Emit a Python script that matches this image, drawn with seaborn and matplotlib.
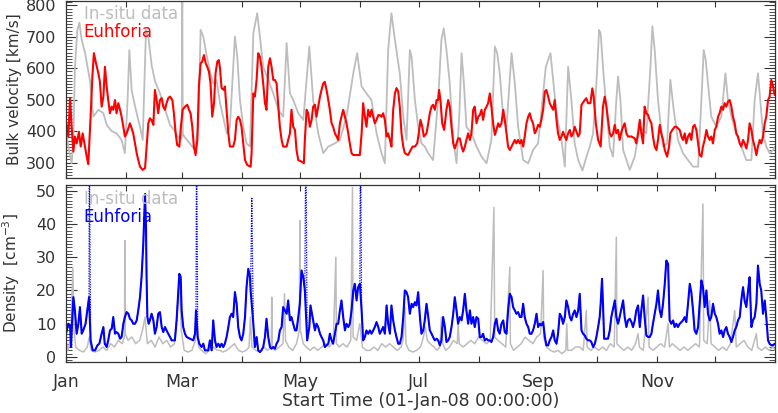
import numpy as np
import pandas as pd
import seaborn as sns
import matplotlib.pyplot as plt
import matplotlib.dates as mdates
from matplotlib.ticker import MultipleLocator, FuncFormatter

start = pd.Timestamp('2008-01-01')

# (day of 2008, km/s) - Euhforia bulk velocity
vel_eu = [(0,430),(1.2,383),(2.1,505),(2.9,414),(3.8,335),(4.6,383),(5.5,361),(6.7,398),(7.6,351),(8.6,393),(9.5,361),(10.7,319),(11.5,295),(12.7,446),(13.6,573),(14.4,648),(15.5,616),(16.7,584),(17.5,558),(18.4,478),(19.3,510),(20.1,605),(21.0,542),(21.8,499),(22.7,457),(23.6,478),(24.4,468),(25.3,499),(26.1,457),(27.0,489),(27.9,468),(28.7,446),(29.6,414),(30.4,383),(31.3,393),(32.2,409),(33.0,425),(33.9,409),(34.7,393),(35.6,361),(36.5,330),(37.3,308),(38.2,287),(39.6,277),(40.8,282),(41.6,351),(42.5,425),(43.3,441),(44.2,435),(45.1,420),(45.9,531),(46.8,499),(47.6,457),(48.5,499),(49.4,505),(50.2,478),(51.1,468),(51.9,489),(52.8,505),(53.7,510),(54.9,499),(55.7,457),(56.6,393),(57.4,356),(58.5,351),(59.3,414),(60.2,468),(61.4,478),(62.6,484),(63.5,468),(64.3,457),(65.2,414),(66.0,351),(66.9,324),(67.8,372),(68.6,542),(69.5,616),(70.3,621),(71.2,642),(72.1,616),(72.9,605),(73.8,589),(74.6,552),(75.5,446),(76.4,489),(77.2,584),(78.1,621),(78.9,626),
          (79.5,600),(80.3,537),(81.5,531),(82.0,542),(82.9,468),(83.8,393),(84.6,351),(86.3,351),(87.2,372),(88.1,436),(88.9,446),(89.8,436),(90.6,414),(91.5,361),(92.4,308),(93.6,292),(95.3,287),(95.8,330),(96.7,520),(97.5,510),(98.4,563),(99.2,648),(100.1,637),(100.9,605),(101.8,552),(102.7,489),(103.5,468),(104.4,605),(105.3,632),(106.1,605),(107.0,563),(107.8,563),(108.7,552),(109.6,478),(110.4,414),(111.3,372),(112.1,351),(113.9,351),(114.7,372),(115.6,393),(116.4,468),(117.3,414),(118.2,404),(119.0,340),(119.9,308),(121.6,303),(122.8,298),(123.3,372),(124.2,468),(125.0,457),(125.9,414),(126.8,436),(127.6,478),(128.5,484),(129.3,446),(130.2,478),(131.1,510),(131.9,531),(132.8,552),(133.6,557),(134.5,531),(135.4,499),(136.2,468),(137.1,425),(137.9,414),(138.8,393),(139.7,383),(140.5,372),(141.4,425),(142.2,446),(143.1,468),(144.0,446),(144.8,425),(145.7,393),(146.5,361),(147.4,330),(148.3,324),(150.0,324),(151.7,324),(152.6,393),(153.4,489),(154.3,446),(155.1,414),(156.0,468),(156.9,446),(157.7,468),(158.6,446),(159.4,425),(160.3,436),(161.2,451),(162.0,451),(162.9,446),(163.7,457),(164.6,436),(165.5,383),(166.3,393),(167.2,372),(168.0,351),(168.9,468),(169.8,520),(170.6,537),(171.5,526),
          (172.3,478),(173.2,393),(174.1,351),(174.9,330),(176.6,324),(177.5,335),(178.9,351),(180.1,351),(181.3,361),(182.1,393),(183.0,436),(183.9,414),(184.7,383),(186.1,393),(187.0,425),(187.8,457),(188.7,478),(189.5,484),(190.4,468),(191.3,499),(192.1,499),(192.6,531),(193.3,499),(194.2,425),(195.2,404),(196.4,468),(197.3,499),(198.1,478),(199.0,414),(199.9,361),(200.7,345),(201.6,361),(202.4,377),(203.3,377),(204.2,351),(205.0,335),(205.9,351),(206.7,372),(207.6,393),(208.5,372),(209.3,393),(210.2,468),(211.0,478),(211.9,425),(212.8,446),(213.6,451),(214.5,468),(215.3,436),(216.2,468),(217.1,478),(217.9,489),(218.8,520),(219.6,478),(220.5,425),(221.4,388),(222.2,404),(223.1,425),(223.9,414),(224.8,425),(225.7,468),(226.5,436),(227.4,393),(228.2,351),(229.1,340),(230.0,351),(230.8,361),(231.7,372),(232.5,361),(233.4,372),(234.3,361),(235.1,372),(236.0,351),(236.8,383),(237.7,425),(238.6,446),(239.4,457),(240.3,436),(241.1,425),(242.0,393),(242.9,404),(243.7,420),(244.6,414),(245.4,436),(246.3,468),(247.2,526),(248.0,531),(248.9,510),(249.7,489),(250.6,478),(251.5,468),(252.3,499),(253.2,436),(254.0,393),(254.9,372),(255.8,383),(256.6,398),(257.5,383),(258.3,372),(259.2,393),(260.1,404),(260.9,383),(261.8,393),(262.6,414),(263.5,398),(264.4,383),
          (265.2,393),(266.1,484),(267.8,499),(268.6,505),(269.5,489),(270.7,489),(271.7,536),(272.4,510),(273.5,425),(274.7,372),(276.0,351),(277.2,478),(278.1,510),(279.0,478),(279.8,436),(280.7,393),(281.5,383),(282.4,393),(283.3,420),(284.1,393),(285.0,404),(285.8,372),(286.7,398),(287.6,414),(288.4,425),(289.3,393),(290.1,383),(291.9,383),(293.6,377),(294.4,361),(295.3,393),(296.2,436),(297.0,393),(297.9,361),(298.7,478),(299.6,457),(300.5,451),(301.3,436),(302.2,425),(303.0,383),(303.9,351),(304.8,340),(305.6,372),(306.5,420),(307.3,393),(308.2,372),(309.1,340),(310.3,319),(311.3,351),(312.0,393),(313.0,404),(314.2,414),(315.1,414),(315.9,409),(316.8,404),(317.7,383),(318.5,372),(319.4,393),(320.2,361),(321.1,383),(322.0,393),(322.8,372),(323.7,414),(324.5,420),(325.4,404),(326.3,361),(327.1,324),(328.0,319),(328.8,351),(329.7,372),(330.6,404),(331.4,383),(332.3,372),(333.1,383),(334.0,361),(334.9,404),(335.7,414),(336.6,446),(337.4,457),(338.3,478),(339.2,468),(340.0,489),(340.9,478),(341.7,494),(342.6,499),(343.5,478),(344.3,446),(345.2,425),(346.0,393),(346.9,383),(347.8,361),(348.6,351),(349.5,372),(350.3,361),(351.2,345),(352.1,372),(352.9,425),(353.8,404),(354.6,372),(355.5,351),(356.4,324),(357.2,351),(358.1,372),(358.9,361),(359.8,383),(360.7,425),(361.5,446),(362.4,499),(363.2,510),(364.1,563),(365.0,542),(365.8,515)]

# (day of 2008, km/s) - in-situ bulk velocity
vel_in = [(0,414),(1.2,350),(2.9,298),(3.8,380),(4.6,600),(5.8,720),(6.9,745),(8.1,690),(9.8,650),(12.4,560),(14.1,446),(16.7,468),(19.3,457),(21.0,420),(23.6,400),(26.1,393),(28.7,372),(30.4,330),(31.8,500),(32.7,658),(33.9,530),(35.6,480),(38.2,414),(39.6,372),(41.3,722),(42.5,700),(44.2,610),(45.9,560),(48.5,520),(51.1,470),(53.7,420),(56.2,400),(58.8,372),(59.8,380),(60.0,815),(60.3,390),(61.4,380),(64.0,360),(66.6,340),(68.3,420),(69.5,722),(70.9,700),(72.6,640),(74.6,584),(76.0,552),(77.7,563),
          (79.5,490),(83.0,393),(84.6,414),(87.2,701),(88.4,637),(89.8,499),(91.5,414),(93.2,361),(95.0,351),(96.7,711),(98.7,775),(100.1,701),(101.8,605),(104.4,563),(107.0,520),(109.6,468),(112.1,446),(113.9,680),(115.6,520),(117.3,499),(119.9,457),(122.5,436),(125.6,669),(127.6,499),(130.2,393),(132.8,330),(135.4,351),(138.8,361),(141.4,372),(144.8,446),(148.3,584),(150.3,648),(152.6,542),(155.1,520),(157.7,499),(160.3,393),(162.9,330),(164.6,298),(166.3,658),(168.0,775),(169.8,690),(172.3,584),(174.1,446),(175.8,372),(177.5,658),(178.4,637),(180.1,499),(181.8,414),(183.5,361),(185.2,351),(187.0,330),(189.5,308),(192.1,499),(193.8,690),(195.0,727),(196.4,658),(198.1,552),(199.9,372),(201.6,298),(203.0,446),(204.2,648),(205.4,552),(206.7,414),(209.3,393),(211.9,351),(214.5,319),(217.1,298),(219.6,372),(221.4,669),(222.6,648),(223.9,584),(225.7,446),(227.4,414),(230.0,648),(231.7,552),(233.4,414),(236.0,308),(238.6,298),(241.1,340),(243.7,361),(246.3,520),(247.7,605),(250.1,648),(251.5,563),(253.2,457),(255.8,372),(257.5,287),(259.2,605),(260.9,499),(262.6,361),(264.4,308),(266.6,275),(268.7,319),(270.4,351),(272.1,393),(273.8,552),(275.2,722),(276.0,711),(277.2,605),(279.0,468),(280.7,351),(282.4,319),(284.1,499),(285.0,574),(286.2,499),(287.6,340),(289.3,308),(291.0,277),(293.6,319),(296.2,414),(299.6,393),(301.7,605),(302.7,733),(303.9,658),(305.6,499),(308.2,351),(310.3,361),(312.0,563),(313.7,468),(315.9,372),(318.5,330),(321.1,308),(323.7,287),(326.3,287),(328.0,499),(329.2,658),(330.2,627),(331.4,552),(333.1,446),(335.7,414),(338.3,446),(340.4,584),(341.7,499),(343.5,446),(346.0,393),(348.6,351),(351.2,308),(353.8,308),(355.5,499),(357.2,584),(358.1,520),(359.8,393),(361.5,351),(363.2,330),(365.0,340),(365.9,350)]

# (day of 2008, cm^-3) - Euhforia density
dens_eu = [(0,7),(1.2,10),(2.1,9.5),(2.6,3),(3.1,10),(3.8,18),(4.6,14),(5.5,7),(6.4,10),(7.2,15),(8.1,7),(8.9,8),(10.1,10),(11.0,14),(11.9,18),(12.7,5),(13.8,2),(15.0,2),(16.2,3.5),(17.2,4),(18.4,7),(19.3,9),(20.0,4),(21.0,3),(21.8,5),(22.7,8),(23.6,8.5),(24.4,12),(25.3,7),(26.1,7.5),(27.0,7),(27.9,5.5),(28.7,6),(29.6,10),(30.4,12),(31.3,13.5),(32.2,13),(33.0,11.5),(33.9,11),(34.7,10),(35.6,10),(36.5,11),(37.3,14),(38.2,18),(39.0,24),(39.9,34),(40.8,49),(41.3,39),(41.6,24),(42.0,12),(42.7,10),(43.3,11),(44.2,13),(45.1,11),(45.9,7),(46.8,9),(47.6,13),(48.5,13.5),(49.4,9),(50.2,7.5),(51.1,9),(51.9,8),(52.8,7),(53.7,6),(54.5,5),(55.4,5),(56.2,5),(57.1,11),(57.6,16),(58.5,25),(59.2,24),(59.7,14),(60.5,9),(61.4,7),(62.3,6),(64.0,5.5),(65.7,5),(66.6,7),(67.1,14),(68.0,6),(68.8,4),(70.0,3),(70.9,4),(71.7,2),(72.6,2),(73.4,2),(74.3,5),(75.2,2),(76.0,11),(76.9,5),(77.7,3),(78.6,4),
           (79.5,3),(80.3,4),(81.2,3),(82.0,4),(82.9,6),(83.8,9),(84.6,12),(85.5,13),(86.3,12),(87.2,19.5),(88.1,16),(88.9,9),(89.8,6),(90.6,5),(91.5,7),(92.4,12),(93.2,21),(94.1,26.5),(95.0,24),(95.3,20),(96.7,10),(97.5,3),(98.4,6),(99.2,2),(100.1,1.5),(100.9,2),(101.8,3),(102.7,6),(103.5,11.5),(104.4,6),(105.3,3),(106.1,2.5),(107.0,3),(107.8,2.5),(108.7,4),(109.6,5),(110.4,8),(111.3,9),(112.1,15),(113.0,14),(113.9,13),(114.7,17),(115.6,11),(116.4,12),(117.3,10),(118.2,8),(119.0,8),(119.9,12),(120.7,16),(121.6,26),(122.5,24),(123.3,20),(124.5,5),(125.6,9),(126.2,15.5),(127.3,12),(128.5,8),(129.3,10),(130.2,9),(131.1,7),(131.9,6),(132.8,5),(133.6,3),(134.5,3.5),(135.4,4),(136.2,7),(137.1,5),(137.9,4),(138.8,7),(139.7,10),(140.5,10),(141.4,14),(142.2,17),(143.1,12),(144.0,8),(144.8,10),(145.7,9),(146.5,10),(147.4,14),(148.3,20),(149.1,22),(150.0,17),(150.8,21),(151.7,22),(152.6,14),(153.4,5),(154.3,6),(155.1,8),(156.0,7),(156.9,8),(157.7,7),(158.6,8),(159.4,9),(160.3,10.5),(161.2,9),(162.0,7),(162.9,8),(163.7,9),(164.6,7),(165.5,15.5),(166.3,10),(167.2,7),(168.0,15.5),(168.9,11),(169.8,8),(170.6,6),(171.5,4),
           (172.3,4),(173.2,6),(174.1,12),(174.9,20),(175.8,19.5),(176.6,18),(177.5,13),(178.4,16),(179.2,15),(180.1,16.5),(180.9,15.5),(181.8,19.5),(182.7,12),(183.5,7),(184.4,8),(185.2,11),(186.1,16),(187.0,12),(187.8,8),(188.7,7),(189.5,6),(190.4,5),(191.3,5.5),(192.1,5),(193.0,3.5),(193.8,5),(194.7,12),(195.6,9),(196.4,4.5),(197.3,5),(198.1,6),(199.0,9),(199.9,13),(200.7,18),(201.6,14),(202.4,10),(203.3,12),(204.2,11),(205.0,14),(205.9,19),(206.7,14),(207.6,10),(208.5,14),(209.3,10),(210.2,12),(211.0,9),(211.9,12),(212.8,11.5),(213.6,6),(214.5,6),(215.3,7),(216.2,5),(217.1,5.5),(217.9,5),(218.8,5),(219.6,4.5),(220.5,6),(221.4,10),(222.2,11.5),(223.1,8),(223.9,7),(224.8,10),(225.7,11),(226.5,7.5),(227.4,7),(228.2,14),(229.1,19),(230.0,18),(230.8,15),(231.7,14),(232.5,13),(233.4,13.5),(234.3,12),(235.1,12),(236.0,16),(236.8,12),(237.7,10),(238.6,9),(239.4,7),(240.3,7),(241.1,8),(242.0,10),(242.9,13),(243.7,9),(244.6,10),(245.4,9.5),(246.3,10.5),(247.2,6),(248.0,3.5),(248.9,3.5),(249.7,5),(250.6,6),(251.5,8),(252.3,5),(253.2,4),(254.0,7),(254.9,13),(255.8,12),(256.6,10),(257.5,12),(258.3,17),(259.2,15),(260.1,12),(260.9,11),(261.8,13),(262.6,14),(263.5,12),(264.4,14),
           (265.2,19),(266.1,8),(266.9,7),(267.8,6.5),(268.6,5.5),(269.5,5),(270.4,5),(271.2,4.5),(272.1,3),(273.0,4),(273.8,6),(274.7,9),(275.5,12),(276.0,16),(276.7,23.5),(277.2,16),(277.8,5.5),(279.0,5.5),(279.8,5.5),(280.7,8),(281.5,12),(282.4,14.5),(283.3,17),(284.1,12),(285.0,10),(285.8,12),(286.7,14.5),(287.6,17),(288.4,12),(289.3,9),(290.1,11),(291.0,11.5),(291.9,10.5),(292.7,9),(293.6,11),(294.4,14),(295.3,15.5),(296.2,9),(297.0,14),(297.9,18.5),(298.7,12),(299.6,6.5),(300.5,6),(301.3,6),(302.2,7),(303.0,10),(303.9,13),(304.8,16),(305.6,20),(306.5,14),(307.3,12),(308.2,16),(309.1,22),(309.9,29),(310.8,28),(311.6,11),(312.5,10),(313.4,11),(314.2,9),(315.1,10),(315.9,9),(316.8,10),(317.7,10.5),(318.5,11),(319.4,12),(320.2,10.5),(321.1,16),(322.0,22),(322.8,19.5),(323.7,14),(324.5,8),(325.4,7),(326.3,9),(327.1,16),(328.0,23),(328.8,21),(329.7,15),(330.6,20),(331.4,13),(332.3,11),(333.1,12),(334.0,16),(334.9,13),(335.7,12),(336.6,10),(337.4,7),(338.3,8),(339.2,6),(340.0,8),(340.9,9),(341.7,7),(342.6,6),(343.5,4.5),(344.3,6),(345.2,8),(346.0,9),(346.9,11),(347.8,12),(348.6,17),(349.5,21),(350.3,17),(351.2,15),(352.1,20),(352.9,24),(353.8,9),(354.6,11),(355.5,12),(356.4,16),(357.2,27.5),(358.1,22),(358.9,20),(359.8,13),(360.7,17),(361.5,12),(362.4,5),(363.2,4),(364.1,3.5),(365.0,3.5),(365.8,4)]

# Euhforia density spikes running off the top of the panel
dens_eu_spikes = [(12.0,70),(67.4,70),(95.9,48),(123.8,70),(152.0,70)]

# (day of 2008, cm^-3) - in-situ density
dens_in = [(0,5),(1,2),(2.5,6),(3.5,27),(4.2,8),(5,3),(7,2),(9,1.5),(11,3),(12,6),(13,2),(15,1.5),(17,2),(19,3),(21,2),(23,4),(25,3),(27,5),(29,4),(30.2,6),(30.4,35),(30.6,7),(32,5),(34,6),(36,4),(38,5),(39.5,8),(40.8,12),(42,4),(44,5),(46,3),(48,6),(50,4),(52,5),(54,3),(56,4),(57.6,15),(58.5,24),(59.5,8),(61,2),(63,1.5),(65,2),(66.8,5),(67.4,9),(68.5,3),(70,2),(72,1),(74,2),(76,3),(78,2),
           (79.5,2),(81,1.5),(83,2),(85,3),(87,4),(89,2),(91,1.5),(93,2),(94.5,3),(95.2,12),(96,3),(98,2),(100,1.5),(102,3),(104,2),(106,3),(106.2,18),(106.5,3),(108,2),(110,3),(112,4),(112.8,19),(113.3,5),(115,3),(117,2),(119,4),(120.5,8),(120.7,41),(121,8),(122.5,4),(124,3),(126,2),(128,3),(130,2),(132,3),(134,4),(136,3),(138,5),(139.3,30),(139.6,4),(141,3),(143,4),(145,3),(147,5),(147.9,51),(148.2,6),(150,5),(151.7,10),(153,3),(155,2),(157,2),(159,3),(161,2),(163,4),(165,3),(167,4),(169,3),(171,2),
           (173,3),(174,5),(175,15),(175.5,4),(177,2),(179,1.5),(181,2),(183,3),(184.5,6),(185.5,9),(186.5,5),(188,4),(190,3),(191.5,2),(193,3),(193.8,12),(194.5,4),(196,2),(198,3),(200,5),(202,4),(202.4,10),(203,4),(205,3),(207,4),(209,5),(211,4),(213,6),(215,5),(217,4),(219,5),(220.9,45),(221.3,6),(223,5),(225,4),(227,3),(229.1,27),(229.4,4),(231,2),(233,3),(235,4),(237,6),(239,5),(241,4),(243,6),(245,7),(246.3,26),(246.6,6),(248,3),(250,2),(252,1.5),(254,2),(256,1),(258,2),(258.5,10),(259,2),(261,2),(263,3),
           (265.2,3),(267,2),(268.6,14),(269,3),(271,2),(273,3),(275,2),(277,3),(279,2),(281,4),(283,3),(284.1,36),(284.4,4),(286,3),(288,2),(290,3),(292,2),(294,4),(295.3,7),(296,3),(298,2),(300.5,18),(301,3),(303,2),(305,3),(307,4),(309,3),(310.8,10),(311.5,3),(313,4),(315,3),(317,2),(319,3),(321,2),(323,3),(325,4),(327,3),(328.8,46),(329.2,5),(331,4),(332.3,17),(333,4),(335,3),(337,2),(339,3),(341,2),(343,4),(345.2,14),(346,3),(348,4),(350,5),(352,3),(354,2),(356.4,7),(357,3),(359,2),(361,3),(363,2),(365,3),(366,2)]

GREY = '#bdbdbd'
TXT = '#333333'


def to_frame(pairs):
    d, v = zip(*pairs)
    return pd.DataFrame({'time': start + pd.to_timedelta(list(d), unit='D'), 'value': v})


sns.set_style('ticks')
plt.rcParams['font.family'] = ['DejaVu Sans']

fig = plt.figure(figsize=(7.78, 4.13), dpi=100)
ax1 = fig.add_axes([66 / 778, 1 - 178 / 413, 709 / 778, 177 / 413])
ax2 = fig.add_axes([66 / 778, 1 - 362 / 413, 709 / 778, 177 / 413])

# velocity panel
sns.lineplot(data=to_frame(vel_in), x='time', y='value', ax=ax1, color=GREY, lw=1.3, estimator=None)
sns.lineplot(data=to_frame(vel_eu), x='time', y='value', ax=ax1, color='red', lw=1.5, estimator=None)

# density panel
sns.lineplot(data=to_frame(dens_in), x='time', y='value', ax=ax2, color=GREY, lw=1.1, estimator=None)
with_spikes = to_frame(sorted(dens_eu + dens_eu_spikes))
sns.lineplot(data=with_spikes, x='time', y='value', ax=ax2, color='blue', lw=0.9,
             linestyle=(0, (1, 1)), estimator=None)
sns.lineplot(data=to_frame(dens_eu), x='time', y='value', ax=ax2, color='blue', lw=1.5, estimator=None)

ax1.set_ylim(251, 814)
ax1.yaxis.set_major_locator(MultipleLocator(100))
ax1.yaxis.set_minor_locator(MultipleLocator(10))
ax2.set_ylim(-1.5, 51.7)
ax2.yaxis.set_major_locator(MultipleLocator(10))
ax2.yaxis.set_minor_locator(MultipleLocator(1))


def month_label(x, pos):
    d = mdates.num2date(x)
    return d.strftime('%b') if (d.month % 2 == 1 and d.year == 2008) else ''


for ax in (ax1, ax2):
    ax.set_xlim(start, start + pd.Timedelta(days=366))
    ax.xaxis.set_major_locator(mdates.MonthLocator())
    ax.xaxis.set_major_formatter(FuncFormatter(month_label))
    ax.tick_params(axis='x', which='major', direction='in', length=4, width=0.8,
                   top=True, bottom=True, colors=TXT, labelsize=12.5, pad=8)
    ax.tick_params(axis='y', which='major', direction='in', length=8, width=0.8,
                   left=True, right=True, colors=TXT, labelsize=11.5, pad=7)
    ax.tick_params(axis='y', which='minor', direction='in', length=4, width=0.6,
                   left=True, right=True, colors=TXT)
    for s in ax.spines.values():
        s.set_color(TXT)
        s.set_linewidth(0.9)
    ax.set_xlabel('')

ax1.tick_params(axis='x', labelbottom=False)
ax1.set_ylabel('Bulk velocity [km/s]', color=TXT, fontsize=11)
ax2.set_ylabel('Density  [cm$^{-3}$]', color=TXT, fontsize=11)
ax2.set_xlabel('Start Time (01-Jan-08 00:00:00)', color=TXT, fontsize=12.5, labelpad=1)
ax1.yaxis.set_label_coords(-44 / 709, 0.5)
ax2.yaxis.set_label_coords(-44 / 709, 0.5)

ax1.text(0.025, 0.927, 'In-situ data', transform=ax1.transAxes, color=GREY, fontsize=12, va='center')
ax1.text(0.025, 0.825, 'Euhforia', transform=ax1.transAxes, color='red', fontsize=12, va='center')
ax2.text(0.025, 0.921, 'In-situ data', transform=ax2.transAxes, color=GREY, fontsize=12, va='center')
ax2.text(0.025, 0.819, 'Euhforia', transform=ax2.transAxes, color='blue', fontsize=12, va='center')

fig.savefig('out.png', dpi=100)
